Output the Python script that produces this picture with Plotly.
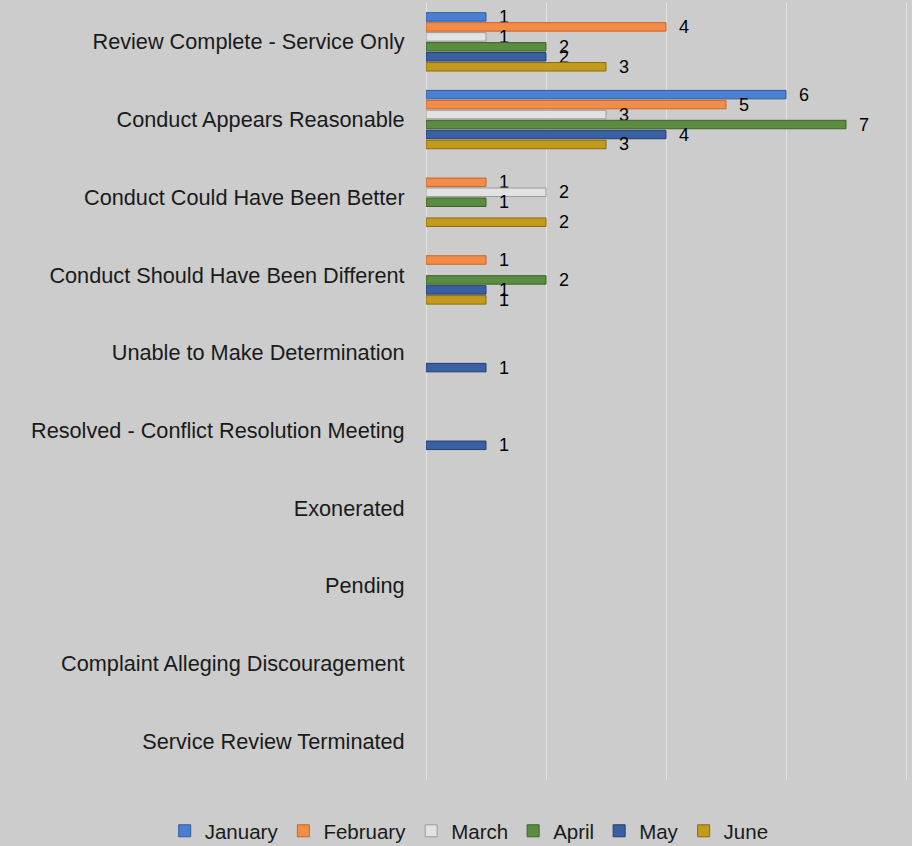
import plotly.graph_objects as go

categories = [
    "Review Complete - Service Only",
    "Conduct Appears Reasonable",
    "Conduct Could Have Been Better",
    "Conduct Should Have Been Different",
    "Unable to Make Determination",
    "Resolved - Conflict Resolution Meeting",
    "Exonerated",
    "Pending",
    "Complaint Alleging Discouragement",
    "Service Review Terminated",
]
january  = [1, 6, 0, 0, 0, 0, 0, 0, 0, 0]
february = [4, 5, 1, 1, 0, 0, 0, 0, 0, 0]
march    = [1, 3, 2, 0, 0, 0, 0, 0, 0, 0]
april    = [2, 7, 1, 2, 0, 0, 0, 0, 0, 0]
may      = [2, 4, 0, 1, 1, 1, 0, 0, 0, 0]
june     = [3, 3, 2, 1, 0, 0, 0, 0, 0, 0]

series = [
    ("January", january, "#4a7fd2", "#2f5da0"),
    ("February", february, "#f28c48", "#c86528"),
    ("March", march, "#e2e2e2", "#9a9a9a"),
    ("April", april, "#5b8c42", "#3d6328"),
    ("May", may, "#3a60a3", "#223f72"),
    ("June", june, "#c29b1c", "#8a6c0c"),
]

FONT = "Liberation Sans"

fig = go.Figure()
for name, vals, col, line in series:
    fig.add_trace(go.Bar(
        name=name, y=categories, x=vals, orientation="h",
        marker=dict(color=col, line=dict(color=line, width=[1 if v else 0 for v in vals])),
        text=["\u00a0\u00a0" + str(v) if v else "" for v in vals],
        textposition="outside", constraintext="none", cliponaxis=False,
        textfont=dict(size=18, color="#000000", family=FONT),
    ))

fig.update_layout(
    width=912, height=846,
    barmode="group", bargap=0.23, bargroupgap=0.15,
    paper_bgcolor="#cccccc", plot_bgcolor="#cccccc",
    margin=dict(l=426, r=3, t=3, b=66, autoexpand=False),
    font=dict(family=FONT, size=21.7, color="#1a1a1a"),
    showlegend=True,
    legend=dict(orientation="h", x=-0.541, xanchor="left", y=-0.0656, yanchor="middle",
                font=dict(size=20.5), itemwidth=30, traceorder="normal",
                bgcolor="rgba(0,0,0,0)"),
    xaxis=dict(range=[0, 8.05], tickvals=[0, 2, 4, 6, 8], showticklabels=False, showgrid=True,
               gridcolor="#e4e4e4", gridwidth=1, zeroline=True,
               zerolinecolor="#e4e4e4", zerolinewidth=1, showline=False),
    yaxis=dict(autorange="reversed", showgrid=False, ticks="outside", ticklen=16,
               tickcolor="rgba(0,0,0,0)", showline=False),
)

fig.write_html("out.html", config={"displayModeBar": False},
               post_script="document.body.style.margin='0';document.body.style.padding='0';")
